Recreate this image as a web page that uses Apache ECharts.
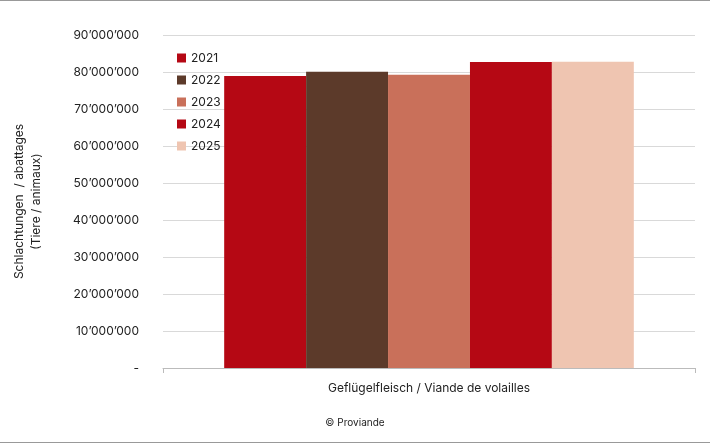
<!DOCTYPE html>
<html><head><meta charset="utf-8">
<script src="https://cdn.jsdelivr.net/npm/echarts@6/dist/echarts.min.js"></script>
<style>html,body{margin:0;padding:0;background:#fff}#c{width:710px;height:443px;box-sizing:border-box;border-top:1px solid #999;border-bottom:1px solid #999}</style>
</head><body><div id="c"></div>
<script>
const categories = ['Geflügelfleisch / Viande de volailles'];
const years = ['2021', '2022', '2023', '2024', '2025'];
const values = [78950000, 80100000, 79250000, 82700000, 82800000];
const colors = ['#b50814', '#5c3a2a', '#c9705a', '#b50814', '#efc5b1'];

const chart = echarts.init(document.getElementById('c'));
const fmt = v => v === 0 ? '-' : String(v).replace(/\B(?=(\d{3})+(?!\d))/g, '’');

chart.setOption({
  textStyle: { fontFamily: 'Inter' },
  grid: { left: 163, right: 15, top: 34, bottom: 74 },
  legend: {
    orient: 'vertical', left: 172, top: 46, itemWidth: 9, itemHeight: 9, itemGap: 10,
    textStyle: { fontSize: 12, color: '#222' },
    data: years.map((y, i) => ({ name: y, icon: 'rect', itemStyle: { color: colors[i] } }))
  },
  xAxis: {
    type: 'category', data: categories,
    axisTick: { show: true, alignWithLabel: false, lineStyle: { color: '#bbb' } },
    axisLine: { lineStyle: { color: '#bbb' } },
    axisLabel: { fontSize: 12, color: '#222', margin: 14 }
  },
  yAxis: {
    type: 'value', min: 0, max: 90000000, interval: 10000000,
    name: 'Schlachtungen  / abattages\n(Tiere / animaux)', nameLocation: 'middle', nameGap: 118,
    nameTextStyle: { fontSize: 12, color: '#222', lineHeight: 17 },
    axisLabel: { formatter: fmt, fontSize: 12, color: '#222', margin: 24 },
    splitLine: { lineStyle: { color: '#d9d9d9' } }
  },
  series: years.map((y, i) => ({
    name: y, type: 'bar', data: [values[i]], barGap: '0%', barCategoryGap: '23%',
    itemStyle: { color: colors[i] }
  })),
  graphic: [{ type: 'text', left: 'center', top: 417, style: { text: '© Proviande', fontSize: 10, fill: '#222', fontFamily: 'Inter' } }]
});
</script></body></html>
